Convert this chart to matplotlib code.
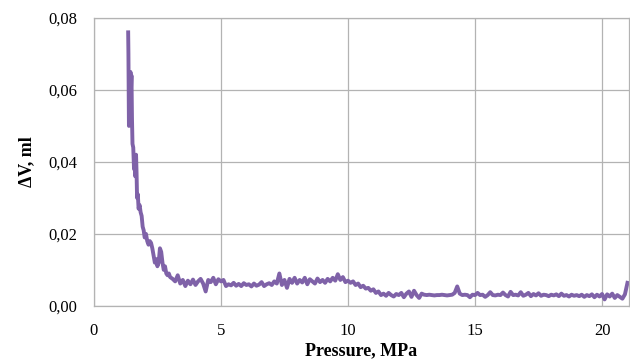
import matplotlib
matplotlib.use("Agg")
import matplotlib.pyplot as plt
from matplotlib.ticker import FuncFormatter

# pressure (MPa) and volume change (ml)
pressure = [
    1.35, 1.36, 1.38, 1.40, 1.42, 1.44, 1.46, 1.48, 1.50, 1.52,
    1.55, 1.58, 1.60, 1.63, 1.66, 1.68, 1.70, 1.73, 1.76, 1.80,
    1.84, 1.88, 1.92, 1.96, 2.00, 2.05, 2.10, 2.15, 2.20, 2.25,
    2.30, 2.35, 2.40, 2.45, 2.50, 2.55, 2.60, 2.65, 2.70, 2.75,
    2.80, 2.85, 2.90, 2.95, 3.00,
    3.1, 3.2, 3.3, 3.4, 3.5, 3.6, 3.7, 3.8, 3.9, 4.0,
    4.1, 4.2, 4.3, 4.4, 4.5, 4.6, 4.7, 4.8, 4.9, 5.0,
    5.1, 5.2, 5.3, 5.4, 5.5, 5.6, 5.7, 5.8, 5.9, 6.0,
    6.1, 6.2, 6.3, 6.4, 6.5, 6.6, 6.7, 6.8, 6.9, 7.0,
    7.1, 7.2, 7.3, 7.4, 7.5, 7.6, 7.7, 7.8, 7.9, 8.0,
    8.1, 8.2, 8.3, 8.4, 8.5, 8.6, 8.7, 8.8, 8.9, 9.0,
    9.1, 9.2, 9.3, 9.4, 9.5, 9.6, 9.7, 9.8, 9.9, 10.0,
    10.1, 10.2, 10.3, 10.4, 10.5, 10.6, 10.7, 10.8, 10.9, 11.0,
    11.1, 11.2, 11.3, 11.4, 11.5, 11.6, 11.7, 11.8, 11.9, 12.0,
    12.1, 12.2, 12.3, 12.4, 12.5, 12.6, 12.7, 12.8, 12.9, 13.0,
    13.1, 13.2, 13.3, 13.4, 13.5, 13.6, 13.7, 13.8, 13.9, 14.0,
    14.1, 14.2, 14.3, 14.4, 14.5, 14.6, 14.7, 14.8, 14.9, 15.0,
    15.1, 15.2, 15.3, 15.4, 15.5, 15.6, 15.7, 15.8, 15.9, 16.0,
    16.1, 16.2, 16.3, 16.4, 16.5, 16.6, 16.7, 16.8, 16.9, 17.0,
    17.1, 17.2, 17.3, 17.4, 17.5, 17.6, 17.7, 17.8, 17.9, 18.0,
    18.1, 18.2, 18.3, 18.4, 18.5, 18.6, 18.7, 18.8, 18.9, 19.0,
    19.1, 19.2, 19.3, 19.4, 19.5, 19.6, 19.7, 19.8, 19.9, 20.0,
    20.1, 20.2, 20.3, 20.4, 20.5, 20.6, 20.7, 20.8, 20.9, 21.0,
]
dv = [
    0.076, 0.070, 0.050, 0.062, 0.055, 0.065, 0.060, 0.064, 0.052, 0.045,
    0.044, 0.038, 0.041, 0.036, 0.042, 0.037, 0.030, 0.031, 0.027, 0.028,
    0.026, 0.025, 0.022, 0.021, 0.019, 0.020, 0.018, 0.017, 0.018, 0.0175,
    0.016, 0.014, 0.012, 0.013, 0.011, 0.012, 0.016, 0.015, 0.012, 0.010,
    0.011, 0.009, 0.0085, 0.009, 0.008,
    0.0075, 0.0068, 0.0085, 0.0062, 0.0072, 0.0055, 0.0070, 0.0060, 0.0073, 0.0058,
    0.0068, 0.0075, 0.0062, 0.0040, 0.0072, 0.0066, 0.0078, 0.0060, 0.0074, 0.0068,
    0.0072, 0.0055, 0.0060, 0.0057, 0.0064, 0.0056, 0.0061, 0.0055, 0.0063, 0.0058,
    0.0060, 0.0054, 0.0062, 0.0056, 0.0059, 0.0066, 0.0055, 0.0060, 0.0063, 0.0058,
    0.0068, 0.0062, 0.0090, 0.0058, 0.0072, 0.0050, 0.0075, 0.0064, 0.0078, 0.0062,
    0.0072, 0.0065, 0.0078, 0.0060, 0.0074, 0.0068, 0.0062, 0.0076, 0.0066, 0.0072,
    0.0064, 0.0075, 0.0068, 0.0078, 0.0070, 0.0088, 0.0072, 0.0080, 0.0066, 0.0070,
    0.0064, 0.0068, 0.0058, 0.0062, 0.0052, 0.0056, 0.0048, 0.0050, 0.0042, 0.0046,
    0.0036, 0.0040, 0.0030, 0.0034, 0.0028, 0.0036, 0.0030, 0.0026, 0.0033, 0.0030,
    0.0036, 0.0024, 0.0034, 0.0040, 0.0025, 0.0042, 0.0030, 0.0022, 0.0034, 0.0031,
    0.0030, 0.0031, 0.0030, 0.0029, 0.0030, 0.0030, 0.0031, 0.0030, 0.0029, 0.0030,
    0.0031, 0.0036, 0.0054, 0.0034, 0.0030, 0.0031, 0.0030, 0.0024, 0.0031, 0.0030,
    0.0036, 0.0030, 0.0031, 0.0025, 0.0030, 0.0038, 0.0030, 0.0029, 0.0031, 0.0030,
    0.0037, 0.0030, 0.0026, 0.0039, 0.0030, 0.0031, 0.0029, 0.0038, 0.0028, 0.0031,
    0.0036, 0.0027, 0.0033, 0.0029, 0.0035, 0.0028, 0.0031, 0.0030, 0.0027, 0.0031,
    0.0029, 0.0032, 0.0027, 0.0034, 0.0028, 0.0030, 0.0026, 0.0031, 0.0028, 0.0030,
    0.0027, 0.0031, 0.0025, 0.0030, 0.0027, 0.0032, 0.0024, 0.0031, 0.0026, 0.0033,
    0.0018, 0.0032, 0.0026, 0.0034, 0.0022, 0.0030, 0.0025, 0.0020, 0.0032, 0.0064,
]

x_ticks = [0, 5, 10, 15, 20]
y_ticks = [0.00, 0.02, 0.04, 0.06, 0.08]

plt.rcParams['font.family'] = ['Liberation Serif', 'DejaVu Serif']

fig = plt.figure(figsize=(6.3, 3.59), dpi=100)
ax = fig.add_axes([0.149, 0.148, 0.849, 0.802])

ax.plot(pressure, dv, color='#7F62A8', linewidth=2.8, solid_joinstyle='round')

ax.set_xlim(0, 21.05)
ax.set_ylim(0, 0.08)
ax.set_xticks(x_ticks)
ax.set_yticks(y_ticks)
ax.yaxis.set_major_formatter(FuncFormatter(lambda v, p: f"{v:.2f}".replace('.', ',')))
ax.tick_params(length=0, labelsize=12, pad=12)
ax.grid(True, color='#B3B3B3', linewidth=0.9)
ax.set_axisbelow(True)
for s in ax.spines.values():
    s.set_color('#B3B3B3')
    s.set_linewidth(0.9)

ax.set_xlabel('Pressure, MPa', fontsize=13, fontweight='bold', labelpad=3)
ax.set_ylabel('ΔV, ml', fontsize=13, fontweight='bold', labelpad=9)

fig.savefig('out.png', dpi=100)
